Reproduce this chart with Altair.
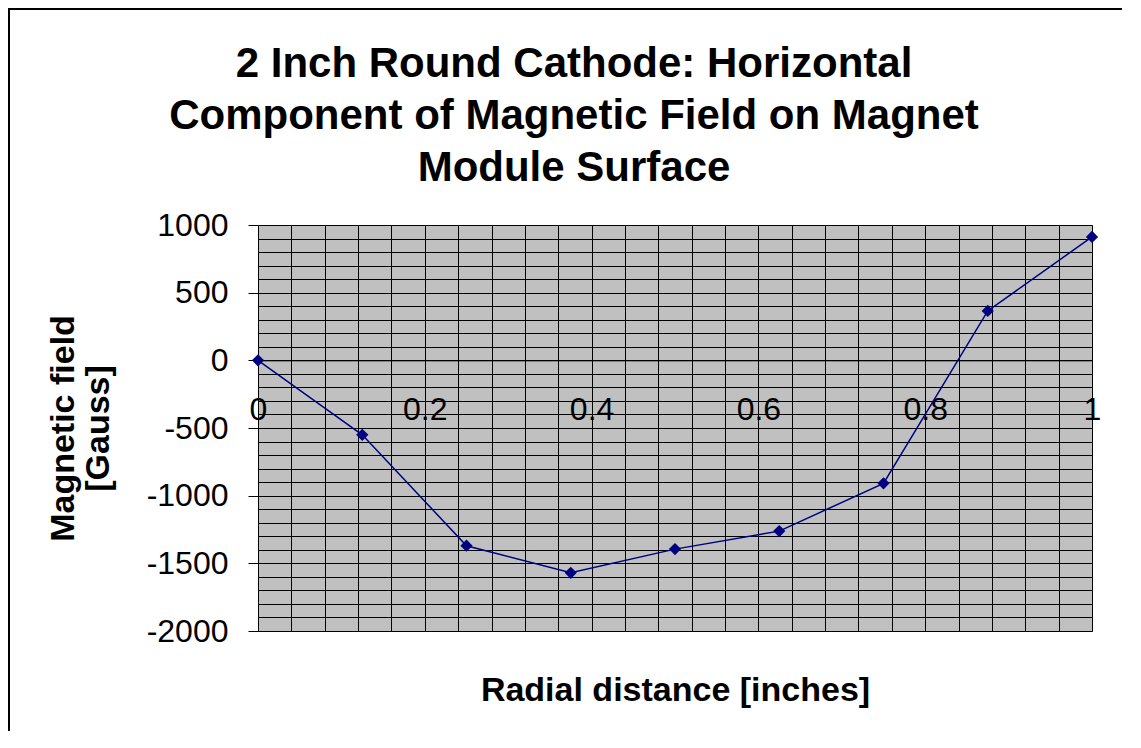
import altair as alt
import pandas as pd

# Data
radial = [0, 0.125, 0.25, 0.375, 0.5, 0.625, 0.75, 0.875, 1.0]
field = [0, -550, -1370, -1570, -1395, -1262, -909, 365, 912]

x_major = [0, 0.2, 0.4, 0.6, 0.8, 1.0]
x_grid = [round(i * 0.04, 2) for i in range(26)]
y_major = [-2000, -1500, -1000, -500, 0, 500, 1000]
y_grid = list(range(-2000, 1001, 100))

title_lines = ["2 Inch Round Cathode: Horizontal",
               "Component of Magnetic Field on Magnet",
               "Module Surface"]
x_title = "Radial distance [inches]"
y_title = ["Magnetic field", "[Gauss]"]

FONT = "Liberation Sans"
NAVY = "#000080"
W, H = 834, 406
PAD = {"left": 250, "top": 217, "right": 30, "bottom": 100}

df = pd.DataFrame({"r": radial, "b": field})

x_scale = alt.Scale(domain=[0, 1], nice=False, zero=False)
y_scale = alt.Scale(domain=[-2000, 1000], nice=False, zero=False)

zero_px = H * (1000 / 3000)
x_axis_offset = -(H - zero_px)

grid_layer = alt.Chart(df).mark_line(color=NAVY, strokeWidth=1.5).encode(
    x=alt.X("r:Q", scale=x_scale,
            axis=alt.Axis(values=x_grid, grid=True, gridColor="#000000", gridWidth=1,
                          gridOpacity=1, domain=False, ticks=False, labels=False,
                          title=None, orient="bottom")),
    y=alt.Y("b:Q", scale=y_scale,
            axis=alt.Axis(values=y_grid, grid=True, gridColor="#000000", gridWidth=1,
                          gridOpacity=1, domain=False, ticks=False, labels=False,
                          title=None, orient="left")),
)

point_layer = alt.Chart(df).mark_point(shape="diamond", filled=True, size=150,
                                       color=NAVY, opacity=1).encode(
    x=alt.X("r:Q", scale=x_scale,
            axis=alt.Axis(values=x_major, grid=False, orient="bottom",
                          offset=x_axis_offset, domainColor="#000000", domainWidth=1,
                          tickColor="#000000", tickSize=10, tickWidth=1,
                          labelFont=FONT, labelFontSize=32, labelColor="#000000",
                          labelPadding=24, labelFlush=False, labelOverlap=False,
                          labelExpr="datum.value == 0 ? '0' : datum.value == 1 ? '1' : format(datum.value, '.1f')",
                          title=x_title, titleFont=FONT, titleFontSize=34,
                          titleFontWeight="bold", titleColor="#000000",
                          titleX=W / 2, titleY=340, titleAlign="center",
                          titleBaseline="alphabetic")),
    y=alt.Y("b:Q", scale=y_scale,
            axis=alt.Axis(values=y_major, grid=False, orient="left",
                          domainColor="#000000", domainWidth=1,
                          tickColor="#000000", tickSize=10, tickWidth=1,
                          labelFont=FONT, labelFontSize=32, labelColor="#000000",
                          labelPadding=20, labelFlush=False, labelOverlap=False,
                          labelExpr="'' + datum.value",
                          title=y_title, titleFont=FONT, titleFontSize=34,
                          titleFontWeight="bold", titleColor="#000000",
                          titleX=-185, titleY=H / 2, titleAngle=270,
                          titleAlign="center", titleBaseline="alphabetic",
                          titleLineHeight=35)),
)

one_row = pd.DataFrame({"k": [0]})
top_border = alt.Chart(one_row).mark_rule(color="#000000", strokeWidth=2, clip=False).encode(
    x=alt.value(-PAD["left"]), x2=alt.value(W + PAD["right"]),
    y=alt.value(-PAD["top"] + 1), y2=alt.value(-PAD["top"] + 1))
left_border = alt.Chart(one_row).mark_rule(color="#000000", strokeWidth=2, clip=False).encode(
    x=alt.value(-PAD["left"] + 1), x2=alt.value(-PAD["left"] + 1),
    y=alt.value(-PAD["top"]), y2=alt.value(H + PAD["bottom"]))

title_text = alt.Chart(one_row).mark_text(
    text=title_lines, font=FONT, fontSize=42, fontWeight="bold", color="#000000",
    lineHeight=52, align="center", baseline="alphabetic", clip=False
).encode(x=alt.value(W / 2 - 101), y=alt.value(-148))

chart = alt.layer(grid_layer, point_layer, top_border, left_border, title_text).resolve_axis(
    x="independent", y="independent"
).properties(
    width=W, height=H,
    autosize=alt.AutoSizeParams(type="none"),
    padding=PAD,
    background="white",
).configure_view(fill="#c0c0c0", stroke="#808080", strokeWidth=1)

chart.save("out.html", embed_options={"renderer": "svg", "actions": False})
